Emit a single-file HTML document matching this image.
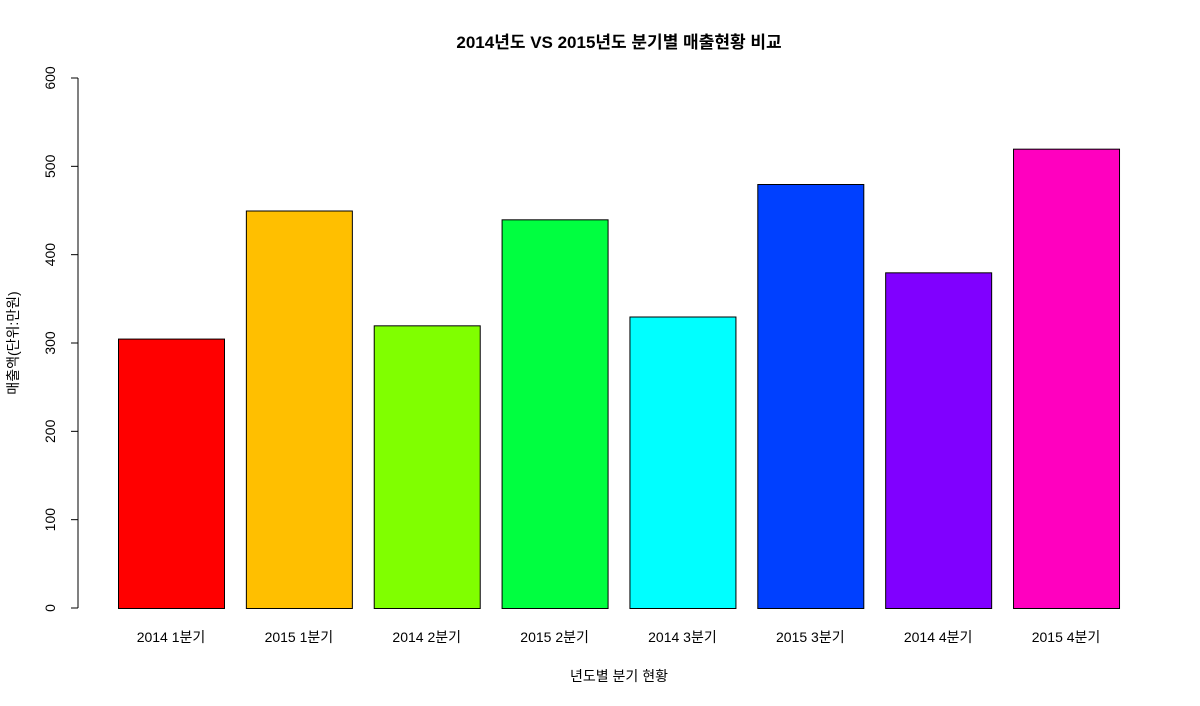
<!DOCTYPE html>
<html><head><meta charset="utf-8"><style>
html,body{margin:0;padding:0;background:#fff;}
svg{display:block;font-family:"Liberation Sans","Noto Sans CJK KR",sans-serif;}
</style></head><body>
<svg id="chart" width="1200" height="706" viewBox="0 0 1200 706">
<text x="619" y="48" text-anchor="middle" font-size="17" font-weight="bold">2014년도 VS 2015년도 분기별 매출현황 비교</text>
<text transform="translate(18,343) rotate(-90)" text-anchor="middle" font-size="14">매출액(단위:만원)</text>
<text x="619" y="681" text-anchor="middle" font-size="14">년도별 분기 현황</text>
<g id="yaxis"></g>
<g id="bars"></g>
<g id="xlabels"></g>
</svg>
<script>
const categories = ["2014 1분기","2015 1분기","2014 2분기","2015 2분기","2014 3분기","2015 3분기","2014 4분기","2015 4분기"];
const values = [305,450,320,440,330,480,380,520];
const colors = ["#FF0000","#FFBF00","#80FF00","#00FF40","#00FFFF","#0040FF","#8000FF","#FF00BF"];
const yTicks = [0,100,200,300,400,500,600];
const NS="http://www.w3.org/2000/svg";
function y(v){return 608 - v*(530/600);}
function x(i){return 118 + i*127.86;}
const bw=106;
function mk(tag,attrs,parent){const e=document.createElementNS(NS,tag);for(const k in attrs)e.setAttribute(k,attrs[k]);parent.appendChild(e);return e;}
const ya=document.getElementById('yaxis');
let l=mk('line',{x1:78,x2:78,y1:y(0),y2:y(600),stroke:'#000'},ya);


yTicks.forEach(t=>{
  const tk=mk('line',{x1:71,x2:78,y1:y(t),y2:y(t),stroke:'#000'},ya);
  
  
  const tx=mk('text',{transform:`translate(55,${y(t)}) rotate(-90)`,'text-anchor':'middle','font-size':14},ya);
  
  
  tx.textContent=t;
});
const bg=document.getElementById('bars'), xl=document.getElementById('xlabels');
values.forEach((v,i)=>{
  const r=mk('rect',{x:x(i)+0.5,y:y(v)+0.5,width:bw,height:y(0)-y(v),fill:colors[i%colors.length],stroke:'#000','stroke-width':1},bg);
  
  
  const t=mk('text',{x:x(i)+bw/2,y:642,'text-anchor':'middle','font-size':14},xl);
  
  
  t.textContent=categories[i];
});
</script>
</body></html>
